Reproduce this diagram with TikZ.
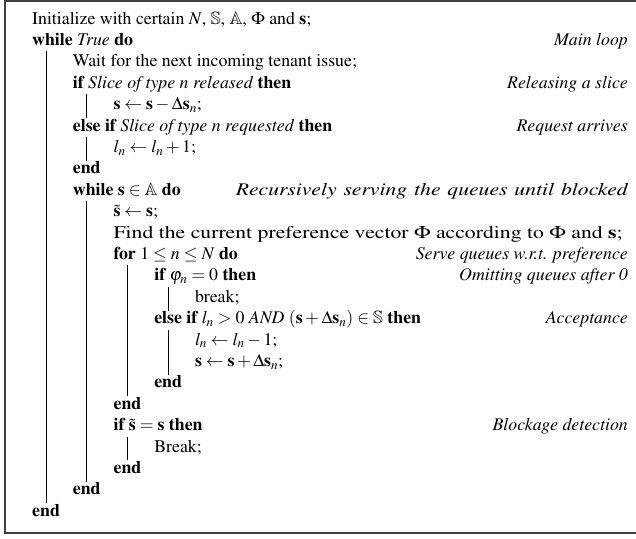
\documentclass[tikz,border=0pt]{standalone}
\usepackage[T1]{fontenc}
\usepackage{amsmath,amssymb}
\usepackage{mathptmx}
\usepackage{graphicx}
\tikzset{
  algline/.style={anchor=base west, inner sep=0pt, font=\fontsize{17.8}{21.4}\selectfont},
  algcmt/.style={anchor=base east, inner sep=0pt, font=\fontsize{17.8}{21.4}\selectfont\itshape},
  vbar/.style={line width=0.8pt, black},
  boxframe/.style={line width=1.3pt, black!75}
}
\newcommand{\bs}{\mathbf{s}}
\newcommand{\bPhi}{\boldsymbol{\Phi}}
\begin{document}
\begin{tikzpicture}[x=1pt,y=1pt]
\useasboundingbox (0,0) rectangle (636,-538);
\begin{scope}
\clip (0,0) rectangle (636,-538);
\draw[boxframe] (5,-1) rectangle (660,-533);
\end{scope}
\node[algline] (l0) at (32,-24) {Initialize with certain $N$, $\mathbb{S}$, $\mathbb{A}$, $\bPhi$ and $\bs$;};
\node[algline] (l1) at (32,-45.4) {\textbf{while} \textit{True} \textbf{do}};
\node[algcmt] (c1) at (628,-45.4) {Main loop};
\node[algline] (l2) at (72.7,-66.8) {Wait for the next incoming tenant issue;};
\node[algline] (l3) at (72.7,-88.2) {\textbf{if} \textit{Slice of type n released} \textbf{then}};
\node[algcmt] (c3) at (628,-88.2) {Releasing a slice};
\node[algline] (l4) at (113.4,-109.6) {$\bs\leftarrow\bs-\Delta\bs_n$;};
\node[algline] (l5) at (72.7,-131) {\textbf{else if} \textit{Slice of type n requested} \textbf{then}};
\node[algcmt] (c5) at (628,-131) {Request arrives};
\node[algline] (l6) at (113.4,-152.4) {$l_n\leftarrow l_n+1$;};
\node[algline] (l7) at (72.7,-173.8) {\textbf{end}};
\node[algline] (l8) at (72.7,-195.2) {\textbf{while} $\bs\in\mathbb{A}$ \textbf{do}};
\node[algcmt] (c8) at (628,-195.2) {\resizebox{392pt}{\height}{\makebox[322pt][s]{Recursively serving the queues until blocked}}};
\node[algline] (l9) at (113.4,-216.6) {$\tilde{\bs}\leftarrow\bs$;};
\node[algline] (l10) at (113.4,-238) {\resizebox{509pt}{\height}{Find the current preference vector $\Phi$ according to $\bPhi$ and $\bs$;}};
\node[algline] (l11) at (113.4,-259.4) {\textbf{for} $1\leq n\leq N$ \textbf{do}};
\node[algcmt] (c11) at (628,-259.4) {Serve queues w.r.t. preference};
\node[algline] (l12) at (154.1,-280.8) {\textbf{if} $\varphi_n=0$ \textbf{then}};
\node[algcmt] (c12) at (628,-280.8) {Omitting queues after 0};
\node[algline] (l13) at (194.8,-302.2) {break;};
\node[algline] (l14) at (154.1,-323.6) {\textbf{else if} $l_n>0$ \textit{AND} $(\bs+\Delta\bs_n)\in\mathbb{S}$ \textbf{then}};
\node[algcmt] (c14) at (628,-323.6) {Acceptance};
\node[algline] (l15) at (194.8,-345) {$l_n\leftarrow l_n-1$;};
\node[algline] (l16) at (194.8,-366.4) {$\bs\leftarrow\bs+\Delta\bs_n$;};
\node[algline] (l17) at (154.1,-387.8) {\textbf{end}};
\node[algline] (l18) at (113.4,-409.2) {\textbf{end}};
\node[algline] (l19) at (113.4,-430.6) {\textbf{if} $\tilde{\bs}=\bs$ \textbf{then}};
\node[algcmt] (c19) at (628,-430.6) {Blockage detection};
\node[algline] (l20) at (154.1,-452) {Break;};
\node[algline] (l21) at (113.4,-473.4) {\textbf{end}};
\node[algline] (l22) at (72.7,-494.8) {\textbf{end}};
\node[algline] (l23) at (32,-516.2) {\textbf{end}};
\draw[vbar] (46,-51.4) -- (46,-503.2);
\draw[vbar] (86.7,-94.2) -- (86.7,-118);
\draw[vbar] (86.7,-137) -- (86.7,-160.8);
\draw[vbar] (86.7,-201.2) -- (86.7,-481.8);
\draw[vbar] (127.4,-265.4) -- (127.4,-396.2);
\draw[vbar] (168.1,-286.8) -- (168.1,-310.6);
\draw[vbar] (168.1,-329.6) -- (168.1,-374.8);
\draw[vbar] (127.4,-436.6) -- (127.4,-460.4);
\end{tikzpicture}
\end{document}
